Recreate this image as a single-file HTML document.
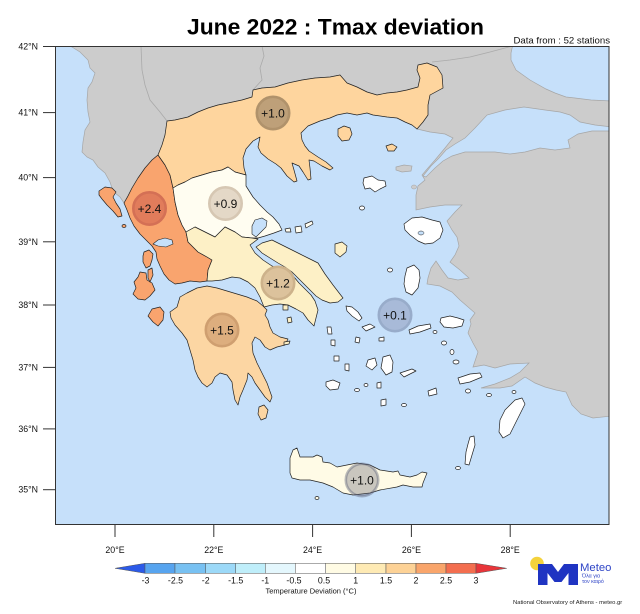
<!DOCTYPE html>
<html><head><meta charset="utf-8">
<style>
html,body{margin:0;padding:0;background:#fff;}
svg{display:block;}
text{font-family:"Liberation Sans",Arial,sans-serif;}
</style></head>
<body>
<svg width="640" height="614" viewBox="0 0 640 614" xmlns="http://www.w3.org/2000/svg">
<defs>
<clipPath id="fr"><rect x="55.5" y="46.5" width="553.5" height="478"/></clipPath>
</defs>
<rect x="0" y="0" width="640" height="614" fill="#fff"/>
<text x="335.5" y="34.5" font-size="22" font-weight="bold" text-anchor="middle" textLength="297" lengthAdjust="spacingAndGlyphs" fill="#000">June 2022 : Tmax deviation</text>
<text x="610" y="43.3" font-size="9.6" text-anchor="end" fill="#111">Data from : 52 stations</text>

<g clip-path="url(#fr)">
<rect x="55.5" y="46.5" width="553.5" height="478" fill="#c6e0fa"/>
<!-- Balkans + Turkey gray -->
<path fill="#cccccc" stroke="#a6a6a6" stroke-width="0.7" d="M70,46 L72,47 L80,52 L84,56 L88,60 L90,68 L95,73 L92,82 L88,88 L87,100 L88,112 L90,122 L85,130 L83,142 L82,152 L87,157 L93,160 L98,167 L105,173 L110,182 L112,188 L115,193 L120,197 L124,203 L132,188 L138,178 L145,168 L152,160 L158,155 L162,145 L165,135 L167,121 L175,120 L188,117 L198,112 L208,108 L218,105 L228,103 L242,100 L252,97 L253,90 L262,88 L275,87 L288,83 L302,80 L315,78 L330,77 L340,75 L347,83 L357,87 L367,92 L377,95 L387,93 L397,92 L407,90 L418,87 L420,78 L417,70 L418,65 L427,63 L437,67 L442,75 L443,88 L430,95 L428,105 L428,115 L423,122 L417,129 L430,132 L445,134 L453,138 L445,148 L435,160 L428,168 L422,175 L425,180 L418,186 L416,195 L416,210 L430,207 L445,205 L462,205 L455,212 L447,221 L452,230 L457,237 L459,246 L455,255 L450,262 L460,270 L469,278 L458,280 L448,278 L442,270 L436,261 L431,268 L428,278 L427,284 L440,286 L452,292 L460,300 L475,313 L470,320 L471,324 L468,333 L473,343 L478,352 L473,367 L484,365 L495,368 L510,364 L529,363 L520,372 L510,378 L495,384 L481,388 L500,388 L512,386 L525,377 L535,383 L545,387 L556,390 L566,392 L572,405 L581,414 L593,418 L612,416 L612,44 L70,44 Z"/>
<!-- Black Sea -->
<path fill="#c6e0fa" stroke="#a6a6a6" stroke-width="0.7" d="M513,44 L612,44 L612,101 L591,100 L575,98 L566,97 L555,93 L546,89 L530,80 L516,70 L511,60 L511,53 Z"/>
<!-- Marmara + Dardanelles -->
<path fill="#c6e0fa" stroke="#a6a6a6" stroke-width="0.7" d="M446,150 L455,144 L465,138 L475,128 L487,115 L505,110 L524,107 L545,110 L560,112 L570,115 L580,122 L595,125 L612,127 L612,131 L592,131 L578,134 L568,140 L570,148 L555,150 L540,148 L525,152 L510,154 L495,152 L480,152 L465,152 L452,156 L443,161 L435,168 L426,177 L423,176 L431,166 L439,158 Z"/>
<!-- Imbros, Bozcaada -->
<path fill="#cccccc" stroke="#a6a6a6" stroke-width="0.7" d="M396,167 L404,165 L412,166 L411,171 L402,172 L396,170 Z"/>
<ellipse cx="414" cy="187" rx="2.5" ry="2" fill="#cccccc" stroke="#a6a6a6" stroke-width="0.6"/>
<!-- country borders -->
<g fill="none" stroke="#aaaaaa" stroke-width="0.8">
<path d="M167,121 L160,112 L150,100 L145,85 L142,70 L141,46"/>
<path d="M253,90 L262,80 L260,68 L264,56 L262,46"/>
<path d="M432,62 L450,60 L470,57 L490,52 L505,48 L513,46"/>
</g>

<!-- Greek regions -->
<g stroke="#222" stroke-width="0.7" stroke-linejoin="round">
<!-- Epirus + W Greece -->
<path fill="#f9a46e" d="M158,155 L165,165 L170,175 L173,188 L175,202 L178,215 L182,225 L186,232 L188,242 L198,252 L207,257 L212,260 L208,270 L207,281 L200,282 L190,281 L182,283 L175,284 L169,280 L164,274 L160,266 L157,259 L156,252 L152,246 L146,240 L140,234 L134,226 L130,218 L127,210 L124,203 L128,196 L132,188 L138,178 L145,168 L152,160 Z"/>
<!-- Macedonia + Thrace -->
<path fill="#fed59e" d="M158,155 L162,145 L165,135 L167,121 L175,120 L188,117 L198,112 L208,108 L218,105 L228,103 L242,100 L252,97 L253,90 L262,88 L275,87 L288,83 L302,80 L315,78 L330,77 L340,75 L347,83 L357,87 L367,92 L377,95 L387,93 L397,92 L407,90 L418,87 L420,78 L417,70 L418,65 L427,63 L437,67 L442,75 L443,88 L430,95 L428,105 L428,115 L423,122 L417,129 L412,125 L405,122 L397,118 L387,117 L373,115 L367,113 L357,115 L347,113 L337,115 L330,118 L320,121 L308,126 L301,133 L302,140 L305,146 L309,151 L318,157 L326,162 L333,168 L330,170 L322,166 L314,161 L309,160 L310,168 L311,179 L308,180 L303,172 L299,166 L292,163 L294,170 L297,181 L294,182 L287,176 L281,168 L276,164 L268,159 L261,153 L258,147 L260,137 L253,141 L246,149 L243,158 L244,168 L246,175 L235,172 L228,167 L222,170 L212,172 L202,175 L192,178 L185,182 L178,185 L173,188 L170,175 L165,165 Z"/>
<!-- Thessaly -->
<path fill="#fffdf1" d="M173,188 L178,185 L185,182 L192,178 L202,175 L212,172 L222,170 L228,167 L235,172 L246,175 L246,186 L253,197 L260,205 L267,212 L273,217 L279,224 L282,230 L274,233 L265,236 L258,238 L252,238 L242,237 L235,232 L225,227 L215,237 L205,232 L195,227 L186,232 L182,225 L178,215 L175,202 Z"/>
<!-- Central Greece -->
<path fill="#fdf0c6" d="M186,232 L195,227 L205,232 L215,237 L225,227 L235,232 L242,237 L252,238 L258,239 L250,245 L255,253 L263,260 L272,266 L280,270 L288,274 L294,277 L299,283 L305,289 L311,295 L315,301 L318,310 L316,318 L314,326 L308,320 L303,313 L296,309 L288,305 L280,304 L272,305 L264,307 L260,297 L255,288 L248,282 L240,278 L232,277 L222,280 L212,281 L207,281 L208,270 L212,260 L207,257 L198,252 L188,242 Z"/>
<!-- Evia -->
<path fill="#fdf0c6" d="M256,247 L262,243 L272,240 L280,244 L290,249 L300,254 L310,259 L318,263 L325,274 L333,285 L343,298 L338,302 L330,303 L322,300 L316,296 L310,290 L304,284 L298,278 L292,272 L285,267 L278,263 L270,258 L262,253 Z"/>
<!-- Peloponnese -->
<path fill="#fcd6a3" d="M170,312 L177,307 L180,297 L187,293 L197,288 L207,286 L217,288 L227,291 L237,294 L247,297 L257,301 L263,306 L267,310 L265,315 L268,320 L270,327 L273,333 L280,337 L288,339 L285,345 L277,347 L270,350 L265,347 L260,340 L255,337 L252,343 L253,353 L257,363 L262,373 L267,383 L272,397 L270,402 L265,397 L260,390 L255,383 L252,377 L248,373 L247,380 L243,390 L240,397 L238,405 L235,400 L233,390 L232,382 L227,375 L220,373 L215,377 L212,383 L207,387 L202,383 L198,377 L195,370 L193,360 L190,350 L187,340 L182,333 L175,325 L171,318 Z"/>
<!-- Crete -->
<path fill="#fffbe6" d="M290,473 L290,458 L293,450 L297,448 L300,457 L305,457 L313,457 L317,455 L322,457 L323,462 L330,463 L337,467 L347,465 L357,463 L370,465 L380,470 L393,472 L398,471 L400,475 L410,477 L417,475 L422,472 L427,473 L423,483 L422,487 L413,487 L403,485 L397,487 L380,490 L370,493 L353,495 L343,493 L333,487 L323,483 L310,480 L300,480 L292,478 Z"/>
<ellipse cx="317" cy="498" rx="2" ry="1.5" fill="#fffbe6"/>

<!-- Ionian islands -->
<path fill="#f9a46e" d="M99,191 L105,187 L112,188 L116,192 L113,197 L116,203 L120,209 L122,216 L118,217 L113,211 L107,205 L102,199 L99,195 Z"/>
<ellipse cx="124" cy="226" rx="2" ry="1.5" fill="#f9a46e"/>
<path fill="#f9a46e" d="M144,252 L149,250 L153,254 L152,260 L150,266 L146,268 L143,262 L143,256 Z"/>
<path fill="#f9a46e" d="M140,272 L146,273 L147,280 L152,283 L155,290 L150,296 L145,300 L138,299 L133,294 L136,288 L134,282 L138,277 Z"/>
<path fill="#f9a46e" d="M148,270 L152,268 L153,275 L150,282 L148,278 Z"/>
<path fill="#f9a46e" d="M152,309 L160,307 L164,312 L163,320 L158,326 L153,322 L148,316 Z"/>

<!-- Thasos, Samothraki -->
<path fill="#fed59e" d="M338,129 L344,126 L350,128 L352,134 L349,140 L342,141 L338,136 Z"/>
<path fill="#fed59e" d="M386,146 L392,144 L397,147 L394,151 L388,151 Z"/>
<!-- Sporades -->
<path fill="#fffdf1" d="M285,229 L290,228 L291,232 L286,232 Z"/>
<path fill="#fffdf1" d="M295,227 L301,226 L302,232 L296,233 Z"/>
<path fill="#fffdf1" d="M305,224 L312,221 L313,224 L306,228 Z"/>
<!-- Skyros, Saronic -->
<path fill="#fdf0c6" d="M335,244 L342,242 L347,246 L346,252 L340,257 L335,253 Z"/>
<path fill="#fdf0c6" d="M287,318 L291,317 L292,322 L288,323 Z"/>
<path fill="#fdf0c6" d="M283,305 L288,305 L288,310 L283,310 Z"/>
<path fill="#fdf0c6" d="M284,342 L290,341 L289,344 L284,345 Z"/>
<!-- Kythira -->
<path fill="#fcd6a3" d="M259,407 L264,405 L268,410 L266,418 L261,420 L258,414 Z"/>

<!-- Aegean islands white -->
<g fill="#ffffff">
<path d="M364,178 L372,176 L378,180 L385,181 L386,186 L380,189 L375,192 L370,188 L365,189 L363,183 Z"/>
<ellipse cx="362" cy="208" rx="2.5" ry="2"/>
<path d="M404,224 L412,218 L422,217 L432,220 L440,222 L443,230 L440,238 L433,243 L425,244 L418,241 L410,235 L405,230 Z"/>
<path d="M407,268 L414,265 L419,270 L420,278 L418,288 L412,295 L406,292 L404,284 L405,276 Z"/>
<ellipse cx="390" cy="270" rx="2.5" ry="2"/>
<path d="M441,318 L450,316 L458,318 L464,320 L462,326 L453,328 L444,327 L440,322 Z"/>
<path d="M409,330 L418,326 L430,324 L431,328 L420,332 L410,334 Z"/>
<ellipse cx="435" cy="332" rx="2" ry="1.5"/>
<ellipse cx="444" cy="343" rx="2.5" ry="2"/>
<ellipse cx="452" cy="352" rx="2" ry="2.5"/>
<ellipse cx="456" cy="362" rx="3" ry="2"/>
<path d="M458,378 L470,374 L480,373 L482,377 L470,382 L460,384 Z"/>
<ellipse cx="468" cy="391" rx="2.5" ry="2"/>
<ellipse cx="489" cy="395" rx="2.5" ry="1.5"/>
<ellipse cx="514" cy="392" rx="2" ry="1.5"/>
<path d="M515,400 L522,398 L525,404 L520,414 L515,424 L510,434 L503,438 L499,432 L500,420 L505,410 Z"/>
<path d="M470,437 L474,436 L475,445 L472,455 L469,465 L465,464 L466,452 L468,444 Z"/>
<ellipse cx="458" cy="468" rx="2.5" ry="1.5"/>
<path d="M428,391 L436,388 L437,394 L429,396 Z"/>
<path d="M400,373 L412,369 L416,371 L404,377 Z"/>
<path d="M383,357 L390,355 L393,362 L392,372 L386,375 L381,368 Z"/>
<path d="M368,360 L375,358 L377,365 L372,370 L366,366 Z"/>
<path d="M379,338 L384,337 L384,341 L379,341 Z"/>
<path d="M362,327 L370,324 L375,327 L366,331 Z"/>
<path d="M346,306 L352,307 L358,312 L362,318 L359,321 L352,316 L347,311 Z"/>
<path d="M356,337 L360,338 L359,343 L355,342 Z"/>
<path d="M327,327 L331,327 L332,334 L328,334 Z"/>
<path d="M331,340 L335,340 L335,346 L331,345 Z"/>
<path d="M334,356 L339,356 L339,361 L334,361 Z"/>
<path d="M345,364 L349,364 L349,371 L345,370 Z"/>
<path d="M326,382 L333,380 L340,383 L338,389 L330,390 L326,386 Z"/>
<path d="M381,400 L386,399 L386,405 L381,406 Z"/>
<path d="M377,383 L381,382 L381,388 L377,388 Z"/>
<ellipse cx="357" cy="390" rx="2.5" ry="1.5"/>
<ellipse cx="404" cy="405" rx="2.5" ry="1.5"/>
<ellipse cx="366" cy="385" rx="2" ry="1.5"/>
</g>
</g>
<!-- gulfs -->
<path fill="#c6e0fa" stroke="#222" stroke-width="0.6" d="M153,244 L158,240 L165,238 L172,240 L173,244 L166,247 L158,246 Z"/>
<path fill="#c6e0fa" stroke="#222" stroke-width="0.6" d="M255,220 L262,218 L267,221 L266,227 L261,232 L256,237 L252,234 L252,226 Z"/>
<ellipse cx="421" cy="233" rx="3" ry="2" fill="#c6e0fa" stroke="#222" stroke-width="0.5"/>

<!-- circles -->
<g font-size="12" text-anchor="middle" fill="#111">
<circle cx="273" cy="113" r="16.2" fill="#bea079" stroke="#b0926b" stroke-width="2.6"/>
<circle cx="225.5" cy="203.5" r="16.2" fill="#e4d8c7" stroke="#d6c7b3" stroke-width="2.6"/>
<circle cx="149.5" cy="208.5" r="16.2" fill="#e17c5b" stroke="#d47055" stroke-width="2.6"/>
<circle cx="278" cy="283" r="16.2" fill="#dcc29c" stroke="#cdb28b" stroke-width="2.6"/>
<circle cx="222" cy="330" r="16.2" fill="#ddae7e" stroke="#cf9f70" stroke-width="2.6"/>
<circle cx="395" cy="315" r="16.2" fill="#a8bad8" stroke="#98acca" stroke-width="2.6"/>
<circle cx="362" cy="480" r="16.2" fill="rgb(90,90,110)" fill-opacity="0.33" stroke="rgb(90,95,120)" stroke-opacity="0.42" stroke-width="2.6"/>
<text x="273" y="117.3">+1.0</text>
<text x="225.5" y="207.8">+0.9</text>
<text x="149.5" y="212.8">+2.4</text>
<text x="278" y="287.3">+1.2</text>
<text x="222" y="334.3">+1.5</text>
<text x="395" y="319.3">+0.1</text>
<text x="362" y="484.3">+1.0</text>
</g>
</g>
<!-- frame -->
<rect x="55.5" y="46.5" width="553.5" height="478" fill="none" stroke="#333" stroke-width="1"/>
<!-- lat ticks -->
<g stroke="#333" stroke-width="1">
<line x1="43" y1="46.5" x2="55.5" y2="46.5"/>
<line x1="43" y1="112.6" x2="55.5" y2="112.6"/>
<line x1="43" y1="177.6" x2="55.5" y2="177.6"/>
<line x1="43" y1="241.8" x2="55.5" y2="241.8"/>
<line x1="43" y1="305" x2="55.5" y2="305"/>
<line x1="43" y1="367.4" x2="55.5" y2="367.4"/>
<line x1="43" y1="428.9" x2="55.5" y2="428.9"/>
<line x1="43" y1="489.7" x2="55.5" y2="489.7"/>
<line x1="115" y1="524.5" x2="115" y2="537"/>
<line x1="213.8" y1="524.5" x2="213.8" y2="537"/>
<line x1="312.6" y1="524.5" x2="312.6" y2="537"/>
<line x1="411.4" y1="524.5" x2="411.4" y2="537"/>
<line x1="510.2" y1="524.5" x2="510.2" y2="537"/>
</g>
<g font-size="8.8" fill="#111" text-anchor="end">
<text x="38" y="49.5">42°N</text>
<text x="38" y="115.6">41°N</text>
<text x="38" y="180.6">40°N</text>
<text x="38" y="244.8">39°N</text>
<text x="38" y="308">38°N</text>
<text x="38" y="370.4">37°N</text>
<text x="38" y="431.9">36°N</text>
<text x="38" y="492.7">35°N</text>
</g>
<g font-size="8.8" fill="#111" text-anchor="middle">
<text x="115" y="553">20°E</text>
<text x="213.8" y="553">22°E</text>
<text x="312.6" y="553">24°E</text>
<text x="411.4" y="553">26°E</text>
<text x="510.2" y="553">28°E</text>
</g>

<!-- colorbar -->
<g stroke="#555" stroke-width="0.5">
<path d="M145,563.3 L145,573.3 L115,568.3 Z" fill="#2c5ae8"/>
<rect x="145" y="563.3" width="30" height="10" fill="#57a4ef"/>
<rect x="175" y="563.3" width="30.7" height="10" fill="#78c1f2"/>
<rect x="205.7" y="563.3" width="30" height="10" fill="#9cd9f8"/>
<rect x="235.7" y="563.3" width="29.6" height="10" fill="#bfeefa"/>
<rect x="265.3" y="563.3" width="30" height="10" fill="#e4f7fd"/>
<rect x="295.3" y="563.3" width="30.4" height="10" fill="#ffffff"/>
<rect x="325.7" y="563.3" width="30" height="10" fill="#fffbe4"/>
<rect x="355.7" y="563.3" width="30.3" height="10" fill="#feeab4"/>
<rect x="386" y="563.3" width="30" height="10" fill="#fdd296"/>
<rect x="416" y="563.3" width="30" height="10" fill="#f9a56b"/>
<rect x="446" y="563.3" width="30" height="10" fill="#f36e4f"/>
<path d="M476,563.3 L476,573.3 L506.7,568.3 Z" fill="#e8353a"/>
</g>
<g font-size="8.8" fill="#111" text-anchor="middle">
<text x="145.5" y="583.5">-3</text>
<text x="175.5" y="583.5">-2.5</text>
<text x="205.7" y="583.5">-2</text>
<text x="235.7" y="583.5">-1.5</text>
<text x="265.3" y="583.5">-1</text>
<text x="294" y="583.5">-0.5</text>
<text x="324" y="583.5">0.5</text>
<text x="355.7" y="583.5">1</text>
<text x="386" y="583.5">1.5</text>
<text x="416" y="583.5">2</text>
<text x="446" y="583.5">2.5</text>
<text x="476" y="583.5">3</text>
</g>
<text x="311" y="593.5" font-size="7.5" fill="#111" text-anchor="middle">Temperature Deviation (°C)</text>

<!-- logo -->
<circle cx="537" cy="563.5" r="6.8" fill="#f4d23c"/>
<path fill="#1f34c2" d="M538,564 L552,564 L558,572 L564,564 L578,564 L578,585 L568.5,585 L568.5,573 L561.5,582 L554.5,582 L547.5,573 L547.5,585 L538,585 Z"/>
<text x="580" y="571" font-size="11.3" fill="#2e44c6">Meteo</text>
<text x="582" y="577.5" font-size="5.3" fill="#2e44c6">Όλα για</text>
<text x="582" y="583" font-size="5.3" fill="#2e44c6">τον καιρό</text>
<text x="513" y="604" font-size="5.85" fill="#222">National Observatory of Athens - meteo.gr</text>
</svg>
</body></html>
